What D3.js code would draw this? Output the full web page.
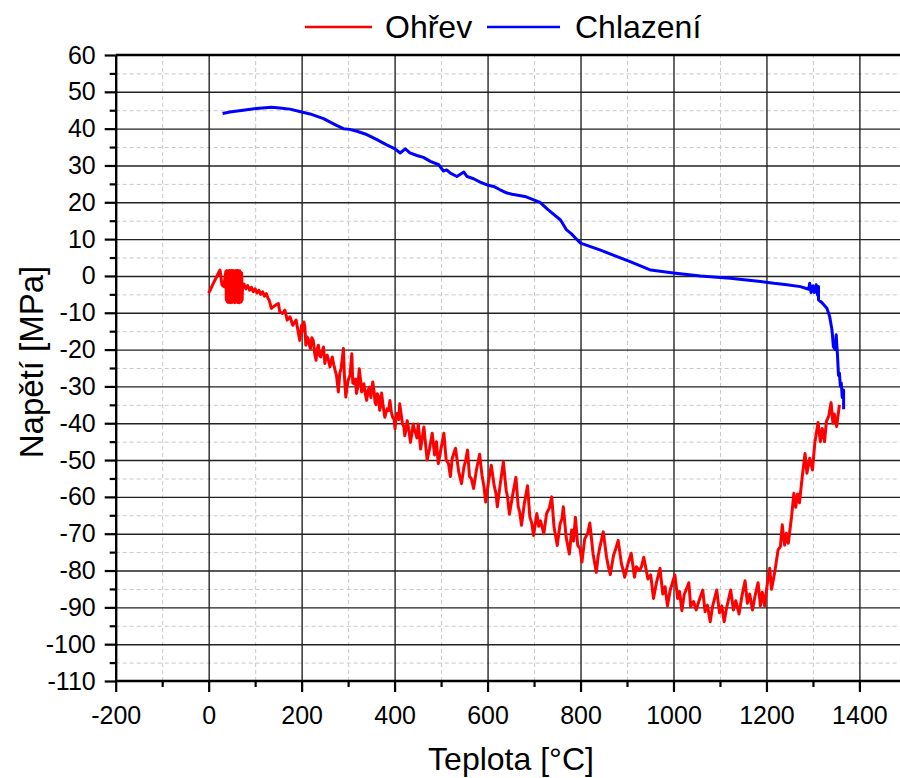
<!DOCTYPE html>
<html><head><meta charset="utf-8">
<script src="https://cdn.jsdelivr.net/npm/d3@7/dist/d3.min.js"></script>
<style>
body{margin:0;background:#fff}
text{font-family:"Liberation Sans",Arial,sans-serif;fill:#000}
</style></head>
<body><svg id="c" width="900" height="778"></svg>
<script>
// ---- data ----
const seriesNames = ["Ohřev", "Chlazení"];
const xTickValues = [-200, 0, 200, 400, 600, 800, 1000, 1200, 1400];
const yTickValues = [-110, -100, -90, -80, -70, -60, -50, -40, -30, -20, -10, 0, 10, 20, 30, 40, 50, 60];
const xTitle = "Teplota [°C]";
const yTitle = "Napětí [MPa]";

// Ohřev (heating): [temperature, stress]
const ohrev = [
[0,-4.7],[12,-1.5],[24.4,1.6],[28.7,-2.5],[33,-2.9],[35,-0.5],
[37,1.2],[38,-6.5],[39,1.5],[40,-7],[41,1],[42,-7.2],[43,1.4],[44,-6.8],[45,1.5],[46,-7.3],
[47,1.2],[48,-7],[49,1.5],[50,-7.2],[51,1.3],[52,-6.9],[53,1.5],[54,-7.1],[55,1.2],[56,-7.3],
[57,1.4],[58,-7],[59,1.5],[60,-6.8],[61,1.1],[62,-7.2],[63,1.5],[64,-7],[65,1.3],[66,-7.3],
[67,1.4],[68,-6.9],[69,1.0],[70,-7.1],[71,0.8],[72,-6.5],[73,-2.5],
[76,-2.2],[80,-3.5],[84,-2.6],[88,-3.9],[92,-3.1],[96,-4.3],[100,-3.5],[104,-4.6],[108,-3.9],
[112,-5],[116,-4.3],[120,-5.5],[124,-4.8],[128,-6.2],
[130,-6.5],[135,-8.8],[143,-8],[150,-7.5],[153,-9.7],[159,-10.2],[164,-9.3],[169,-12],[175,-11.1],
[181,-13.4],[188,-12],
[196,-17.5],[200,-13.4],[202,-15],[205,-12.5],[207,-14],[209,-18.8],[211,-16.5],[214,-17],[216,-18.5],
[219,-19.7],[222,-16.8],[225,-17.5],[228,-21],[231,-22.9],[233,-20],[236,-18.8],[238,-21.5],[241,-22],
[244,-20.5],[247,-19.3],[250,-23.8],[252,-22.5],[255,-21.5],[258,-23],[261,-24.7],[263,-23.5],[266,-22],
[269,-24],[272,-25.6],[275,-27],[279,-31.5],[282,-26.5],[285,-25],[290,-19.7],[292,-27],[295,-32.9],
[298,-30],[300,-28.4],[304,-27],[308,-21.1],[310,-29],[313,-29.3],[316,-28],[318,-31.9],[321,-30],
[324,-25.2],[327,-28.5],[329,-31.5],[332,-30.5],[334,-29.3],[337,-32],[340,-33.8],[343,-31],[346,-30.2],
[349,-33],[353,-28.8],[356,-31.5],[358,-34.3],[360,-35],[363,-32],[366,-33],[368,-36.5],[370,-35],
[372,-31.8],[375,-35],[379,-38.4],[382,-37],[384,-36.1],[387,-36.5],[390,-33.8],[393,-37],[396,-38.4],
[399,-39],[401,-41.5],[403,-38.5],[406,-37.3],[409,-39],[411,-34.7],[414,-37.5],[417,-40.2],[420,-41],
[422,-43.4],[425,-41.5],[427,-39.3],[431,-42],[434,-45.2],[437,-43],[440,-40.2],[443,-42],[446,-42.9],
[448,-44],[451,-40.2],
[456,-47],[463,-41],[470,-50],[475,-47],[481,-42.7],[486,-48.6],[490,-45],[494,-51],[500,-46.8],
[506,-42.7],[511,-50],[516,-51],[520,-54.5],[524,-49.5],[531,-46.8],[538,-53.2],[544,-56.4],[549,-52],
[553,-50],[557,-47.3],[561,-54.4],[565,-55],[570,-57.7],[576,-52.7],[583,-48.4],[588,-54.1],[592,-57],
[596,-61.4],[602,-55.9],[608,-51.4],[614,-56.8],[618,-59],[621,-62.7],[627,-56.8],[634,-50.5],[640,-58.2],
[643,-60],[647,-64.7],[654,-59.5],[661,-54.7],[666,-62.7],[669,-64],[673,-67.7],[679,-61.9],[686,-57],
[691,-65.5],[695,-67],[699,-70.5],[706,-64.5],[710,-68],[714,-66.5],[721,-70],[727,-64.5],[733,-63],
[738,-60],[743,-68.2],[750,-73.2],[756,-67.3],[760,-66],[763,-62.7],[769,-70.9],[776,-75.5],[781,-69],
[785,-72],[789,-65.5],[794,-73.2],[799,-74],[803,-77.7],[809,-71.4],[815,-70],[820,-67.1],[827,-75.5],
[834,-80.5],[838,-76],[841,-74],[849,-69.5],[856,-76.4],[860,-79],[864,-81.1],[871,-75.9],[876,-74],
[881,-71.8],[888,-78.2],[892,-80],[895,-81.8],[902,-78.2],[909,-75.3],[916,-81.8],[920,-79],[927,-80],
[931,-79],[936,-76.4],[940,-79],[945,-82.3],
[951,-81.2],[957,-87.6],[963,-83.5],[971,-79.4],[977,-86.4],[982,-84.4],[987,-89.6],[993,-85.3],
[1003,-81.2],[1009,-87.6],[1013,-85.7],[1018,-90.9],[1023,-86.6],[1033,-83.3],[1037,-89.8],
[1043,-88.4],[1049,-90.7],[1056,-87.8],[1063,-85.3],[1068,-91.2],[1073,-89.4],[1079,-93.9],
[1084,-89.8],[1093,-85.3],[1099,-91.5],[1104,-89.6],[1109,-93.9],[1114,-90.3],[1123,-85.3],
[1129,-90.7],[1134,-88.2],[1141,-91.8],[1147,-87.1],[1154,-82.8],[1159,-88.9],[1164,-86.4],
[1170,-90.7],[1176,-86.6],[1182,-83.3],[1187,-89.6],[1191,-85.9],[1196,-89.6],[1201,-84.4],
[1207,-79.4],[1211,-85.1],[1218,-80.3],[1225,-74.4],[1230,-73.5],[1234,-67.6],[1239,-73.1],
[1243,-69.9],[1247,-72.6],[1254,-65.4],[1259,-59],[1263,-62.8],[1267,-59.2],[1271,-61.6],
[1277,-54.5],[1283,-48.2],[1287,-53.6],[1293,-49.5],[1299,-52.7],[1304,-45.4],[1311,-39.8],
[1316,-45],[1320,-41.4],[1325,-45],[1329,-39.5],[1334,-38.1],[1339,-34.4],[1343,-40],
[1346,-37.5],[1351,-40.9],[1357,-35]
];

// Chlazení (cooling): [temperature, stress]
const chlazeni = [
[1366,-36.2],[1366,-31],[1363,-33],[1361,-29.1],[1359,-30],[1357,-26.4],[1355,-27],[1353,-21.9],
[1350,-16],[1348,-20],[1344,-19.2],[1341,-14.7],[1336,-11],[1330,-8.8],[1319,-7.2],[1312,-6.5],
[1312,-2.9],[1310,-5.2],[1307,-2.4],[1303,-4.5],[1300,-2.7],[1296,-4.5],[1293,-2],[1291,-3.6],
[1273,-2.9],[1244,-2.4],[1216,-2],[1187,-1.5],[1122,-0.6],[1058,0],[1000,0.8],[951,1.6],
[908,3.8],[843,7],[800,8.9],[789,10.3],[780,11.5],[770,12.5],[757,15.2],[730,18],[713,20],
[683,21.5],[653,22.2],[642,22.5],[627,23.4],[613,24.3],[599,24.7],[584,25.5],[570,26.4],
[556,27],[549,28.2],[534,27],[520,27.9],[512,28.8],[505,28.5],[495,30.2],[477,31.1],[462,32.2],
[448,32.7],[433,33.4],[423,34.5],[412,33.4],[401,34.5],[383,35.6],[362,37],[340,38.4],[319,39.3],
[303,39.8],[290,40],[275,40.9],[247,42.7],[218,44],[200,44.5],[175,45.3],[153,45.6],[135,45.8],
[103,45.5],[74,45],[45.5,44.5],[30,44.1]
];
const seriesColors = ["#ff0000", "#0000ff"];

// ---- drawing ----
const svg = d3.select("#c");
const L = 115.7, R = 905.9, T = 55, B = 681;
const x = d3.scaleLinear().domain([-200, 1500]).range([L, R]);
const y = d3.scaleLinear().domain([-110, 60]).range([B, T]);
const fmt = d => String(d);

const xMinor = d3.range(-100, 1500, 200);
const yMinor = d3.range(-105, 60, 10);

// minor grid (dashed)
svg.append("g").attr("transform", `translate(0,${B})`)
  .call(d3.axisBottom(x).tickValues(xMinor).tickSize(-(B-T)).tickFormat(""))
  .call(g=>g.select(".domain").remove())
  .selectAll("line").attr("stroke", "#c8c8c8").attr("stroke-dasharray", "4,3");
svg.append("g").attr("transform", `translate(${L},0)`)
  .call(d3.axisLeft(y).tickValues(yMinor).tickSize(-(R-L)).tickFormat(""))
  .call(g=>g.select(".domain").remove())
  .selectAll("line").attr("stroke", "#c8c8c8").attr("stroke-dasharray", "4,3");

// major grid
svg.append("g").attr("transform", `translate(0,${B})`)
  .call(d3.axisBottom(x).tickValues(xTickValues.filter(v=>v>-200)).tickSize(-(B-T)).tickFormat(""))
  .call(g=>g.select(".domain").remove())
  .selectAll("line").attr("stroke", "#000").attr("stroke-width", 1.2);
svg.append("g").attr("transform", `translate(${L},0)`)
  .call(d3.axisLeft(y).tickValues(yTickValues.filter(v=>v>-110 && v<60)).tickSize(-(R-L)).tickFormat(""))
  .call(g=>g.select(".domain").remove())
  .selectAll("line").attr("stroke", "#222").attr("stroke-width", 1.4);

// lines
const line = d3.line().x(d=>x(d[0])).y(d=>y(d[1]));
svg.append("path").datum(ohrev).attr("d", line).attr("fill","none")
  .attr("stroke", seriesColors[0]).attr("stroke-width", 3).attr("stroke-linejoin","round");
svg.append("path").datum(chlazeni).attr("d", line).attr("fill","none")
  .attr("stroke", seriesColors[1]).attr("stroke-width", 3).attr("stroke-linejoin","round");

// top frame
svg.append("line").attr("x1", L).attr("x2", 900).attr("y1", T).attr("y2", T)
  .attr("stroke","#000").attr("stroke-width", 2.4);

// minor ticks
svg.append("g").attr("transform", `translate(0,${B})`)
  .call(d3.axisBottom(x).tickValues(xMinor).tickSize(6).tickFormat(""))
  .call(g=>g.select(".domain").remove())
  .selectAll("line").attr("stroke","#000").attr("stroke-width", 2.2);
svg.append("g").attr("transform", `translate(${L},0)`)
  .call(d3.axisLeft(y).tickValues(yMinor).tickSize(6).tickFormat(""))
  .call(g=>g.select(".domain").remove())
  .selectAll("line").attr("stroke","#000").attr("stroke-width", 2.2);

// major axes
const xa = svg.append("g").attr("transform", `translate(0,${B})`)
  .call(d3.axisBottom(x).tickValues(xTickValues).tickFormat(fmt).tickSize(11).tickSizeOuter(0).tickPadding(14));
const ya = svg.append("g").attr("transform", `translate(${L},0)`)
  .call(d3.axisLeft(y).tickValues(yTickValues).tickFormat(fmt).tickSize(11).tickSizeOuter(0).tickPadding(9));
[xa, ya].forEach(a=>{
  a.select(".domain").attr("stroke","#000").attr("stroke-width", 2.4);
  a.selectAll(".tick line").attr("stroke","#000").attr("stroke-width", 2.2);
  a.selectAll(".tick text").attr("font-size", 25).attr("font-family", '"Liberation Sans",Arial,sans-serif').attr("fill","#000");
});
xa.select(".domain").attr("d", `M${L},0H900`);

// axis titles
svg.append("text").attr("x", 511).attr("y", 770).attr("text-anchor","middle")
  .attr("font-size", 32).text(xTitle);
svg.append("text").attr("transform", "translate(43,362) rotate(-90)").attr("text-anchor","middle")
  .attr("font-size", 33).text(yTitle);

// legend
const leg = [{x1:305, x2:372, tx:385}, {x1:487, x2:560, tx:575}];
leg.forEach((p,i)=>{
  svg.append("line").attr("x1",p.x1).attr("x2",p.x2).attr("y1",27).attr("y2",27)
    .attr("stroke", seriesColors[i]).attr("stroke-width", 2.4);
  svg.append("text").attr("x", p.tx).attr("y", 38).attr("font-size", 32).text(seriesNames[i]);
});
</script>
</body></html>
